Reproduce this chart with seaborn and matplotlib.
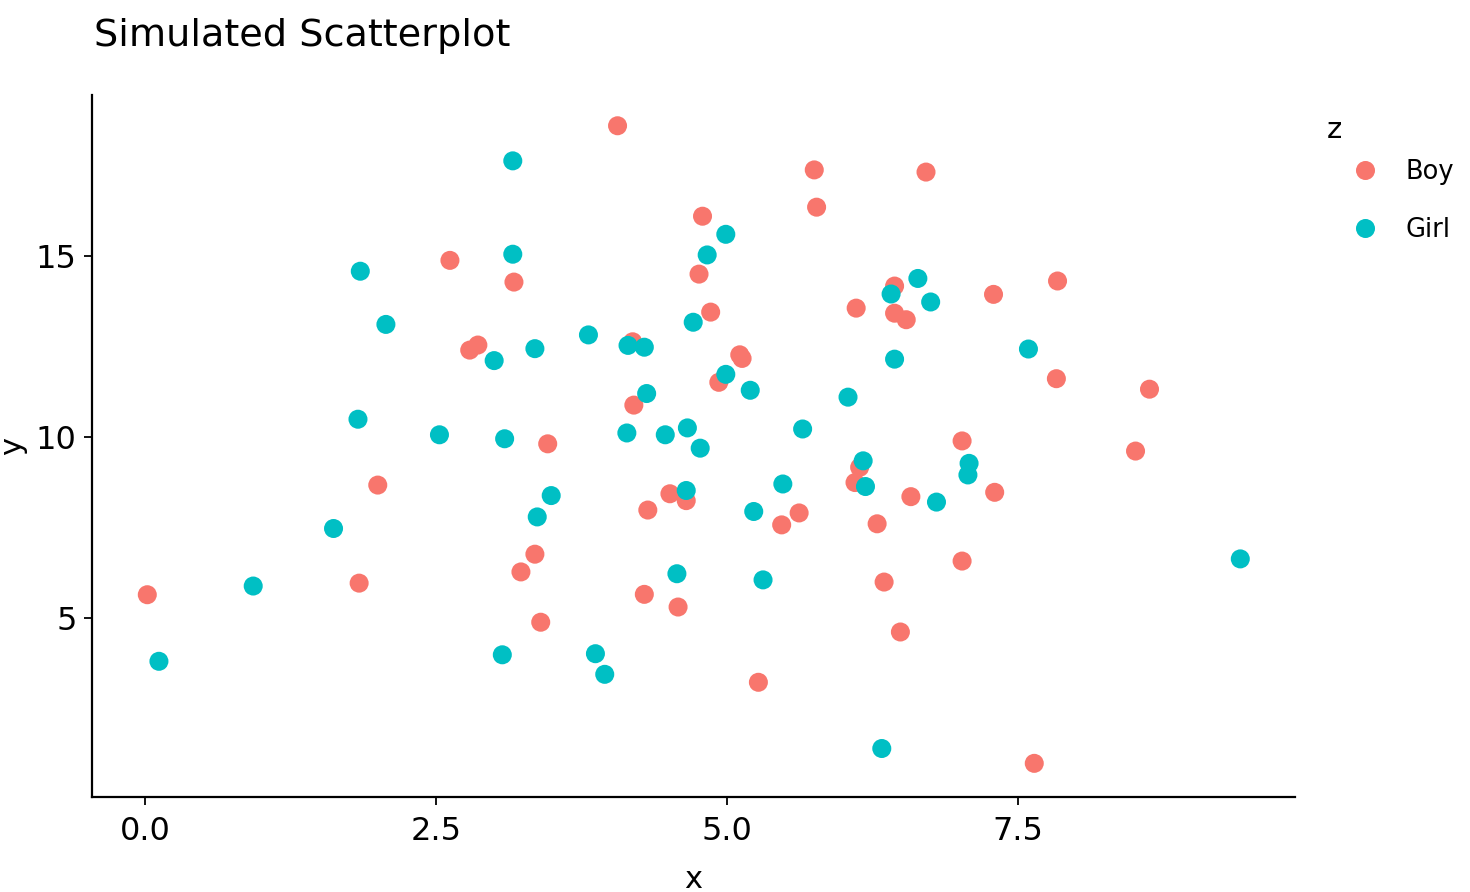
import pandas as pd
import matplotlib
matplotlib.use("Agg")
import matplotlib.pyplot as plt
from matplotlib.lines import Line2D
import seaborn as sns

# Data
boy_x = [0.02, 1.84, 2.00, 2.62, 2.79, 2.86, 3.17, 3.46, 3.35, 3.23,
         3.40, 4.06, 4.19, 4.20, 4.32, 4.29, 4.51, 4.65, 4.58, 4.79,
         4.76, 4.86, 4.93, 5.11, 5.13, 5.75, 5.77, 5.27, 5.47, 5.62,
         6.11, 6.14, 6.10, 6.29, 6.35, 6.49, 6.44, 6.44, 6.54, 6.71,
         6.58, 7.02, 7.02, 7.29, 7.30, 7.84, 7.83, 7.64, 8.63, 8.51]
boy_y = [5.64, 5.96, 8.67, 14.88, 12.40, 12.54, 14.28, 9.81, 6.76, 6.27,
         4.88, 18.60, 12.63, 10.88, 7.98, 5.65, 8.43, 8.24, 5.30, 16.10,
         14.50, 13.45, 11.51, 12.27, 12.17, 17.38, 16.35, 3.22, 7.57, 7.90,
         13.56, 9.16, 8.74, 7.60, 5.99, 4.61, 14.17, 13.42, 13.24, 17.32,
         8.35, 9.89, 6.57, 13.94, 8.47, 14.31, 11.61, 0.98, 11.32, 9.61]

girl_x = [0.12, 0.93, 1.62, 1.83, 1.85, 2.07, 2.53, 3.00, 3.07, 3.09,
          3.16, 3.16, 3.35, 3.37, 3.49, 3.81, 3.87, 3.95, 4.14, 4.15,
          4.29, 4.31, 4.47, 4.57, 4.65, 4.66, 4.71, 4.77, 4.83, 4.99,
          4.99, 5.20, 5.23, 5.31, 5.48, 5.65, 6.04, 6.17, 6.19, 6.33,
          6.41, 6.44, 6.64, 6.75, 6.80, 7.07, 7.08, 7.59, 9.41]
girl_y = [3.80, 5.88, 7.47, 10.49, 14.58, 13.11, 10.06, 12.11, 3.98, 9.95,
          15.05, 17.63, 12.44, 7.79, 8.38, 12.82, 4.01, 3.44, 10.11, 12.53,
          12.48, 11.20, 10.06, 6.22, 8.52, 10.25, 13.17, 9.69, 15.03, 11.73,
          15.60, 11.29, 7.94, 6.05, 8.70, 10.22, 11.10, 9.34, 8.63, 1.39,
          13.95, 12.15, 14.38, 13.73, 8.20, 8.95, 9.27, 12.43, 6.63]

groups = ["Boy", "Girl"]
colors = {"Boy": "#F8766D", "Girl": "#00BFC4"}

df = pd.DataFrame({
    "x": boy_x + girl_x,
    "y": boy_y + girl_y,
    "z": ["Boy"] * len(boy_x) + ["Girl"] * len(girl_x),
})

sns.set_theme(style="white")
plt.rcParams['font.family'] = ['DejaVu Sans']

fig = plt.figure(figsize=(14.7, 8.92), dpi=100)
ax = fig.add_axes([92 / 1470, 95 / 892, (1295 - 92) / 1470, (797 - 95) / 892])

dot = 13.7  # marker diameter in points
sns.scatterplot(data=df, x="x", y="y", hue="z", hue_order=groups,
                palette=colors, s=dot ** 2, linewidth=0, alpha=1,
                legend=False, ax=ax)

ax.set_xlim(-0.455, 9.88)
ax.set_ylim(0.05, 19.45)
ax.set_xticks([0, 2.5, 5, 7.5])
ax.set_xticklabels(["0.0", "2.5", "5.0", "7.5"])
ax.set_yticks([5, 10, 15])

for side in ["top", "right"]:
    ax.spines[side].set_visible(False)
for side in ["left", "bottom"]:
    ax.spines[side].set_color("black")
    ax.spines[side].set_linewidth(1.6)

ax.tick_params(axis="both", which="major", direction="out", length=6,
               width=1.3, color="black", labelsize=23, labelcolor="black",
               bottom=True, left=True)
ax.tick_params(axis="x", pad=8)
ax.tick_params(axis="y", pad=5)

# axis titles placed by hand (plotly-like positions)
ax.set_xlabel("x", fontsize=22, color="black", va="center")
ax.set_ylabel("y", fontsize=22, color="black", va="center")
ax.xaxis.set_label_coords(0.5, (797 - 880) / 702)
ax.yaxis.set_label_coords((13 - 92) / 1203, 0.5)

fig.text(94 / 1470, 1 - 46 / 892, "Simulated Scatterplot", fontsize=27.5,
         ha="left", va="baseline", color="black")

# legend title drawn on its own so its gap to the entries can be set freely
fig.text(1327 / 1470, 1 - 130 / 892, "z", fontsize=21, ha="left",
         va="center", color="black")

handles = [Line2D([0], [0], marker="o", linestyle="", markersize=dot,
                  markerfacecolor=colors[g], markeredgewidth=0) for g in groups]
leg = ax.legend(handles, groups, loc="upper left",
                bbox_to_anchor=(1330 / 1470, 1 - 159 / 892),
                bbox_transform=fig.transFigure, frameon=False,
                fontsize=18.5, handlelength=2.72, handletextpad=0.2,
                labelspacing=1.26, borderpad=0, borderaxespad=0,
                labelcolor="black")

fig.savefig("out.png", dpi=100)
